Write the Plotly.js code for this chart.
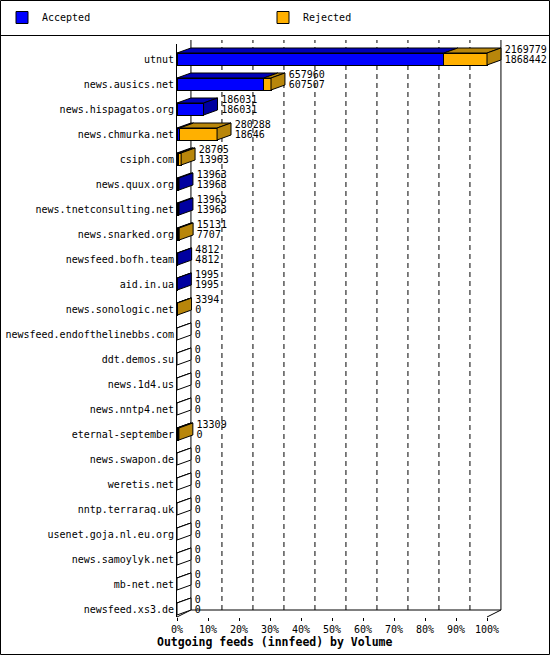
<!DOCTYPE html>
<html>
<head>
<meta charset="utf-8">
<script src="https://cdn.plot.ly/plotly-3.0.1.min.js"></script>
<style>
  html, body { margin: 0; padding: 0; background: #fff; }
  #chart { width: 550px; height: 655px; }
</style>
</head>
<body>
<div id="chart"></div>
<script>
// outgoing feeds, innfeed
var hosts = ['utnut', 'news.ausics.net', 'news.hispagatos.org', 'news.chmurka.net',
  'csiph.com', 'news.quux.org', 'news.tnetconsulting.net', 'news.snarked.org',
  'newsfeed.bofh.team', 'aid.in.ua', 'news.sonologic.net', 'newsfeed.endofthelinebbs.com',
  'ddt.demos.su', 'news.1d4.us', 'news.nntp4.net', 'eternal-september',
  'news.swapon.de', 'weretis.net', 'nntp.terraraq.uk', 'usenet.goja.nl.eu.org',
  'news.samoylyk.net', 'mb-net.net', 'newsfeed.xs3.de'];
var offered = [2169779, 657960, 186031, 280288, 28765, 13963, 13963, 15131,
  4812, 1995, 3394, 0, 0, 0, 0, 13309, 0, 0, 0, 0, 0, 0, 0];
var accepted = [1868442, 607507, 186031, 18646, 13963, 13963, 13963, 7707,
  4812, 1995, 0, 0, 0, 0, 0, 0, 0, 0, 0, 0, 0, 0, 0];
var pctTicks = [0, 10, 20, 30, 40, 50, 60, 70, 80, 90, 100];

var mono = 'DejaVu Sans Mono, Liberation Mono, monospace';

// pixel helpers (plot area is 177..549 x 40..619)
var L = 177, R = 549, T = 40, B = 619;
function px(p) { return (p - L) / (R - L); }
function py(p) { return (B - p) / (B - T); }

var maxOff = Math.max.apply(null, offered);
var rows = hosts.map(function (h, i) { return i; });
var accPct = accepted.map(function (v) { return v / maxOff * 100; });
var rejPct = offered.map(function (v, i) { return (v - accepted[i]) / maxOff * 100; });
var offPct = offered.map(function (v) { return v / maxOff * 100; });

// fake 3d: depth of bars in axis units
var DX = 4.5, DY = 0.2, H = 0.48;

function poly() { return {x: [], y: []}; }
function add(p, pts) {
  pts.forEach(function (q) { p.x.push(q[0]); p.y.push(q[1]); });
  p.x.push(null); p.y.push(null);
}
var topB = poly(), topO = poly(), sideB = poly(), sideO = poly(), sideE = poly();
rows.forEach(function (i) {
  var yt = i - H / 2, yb = i + H / 2, a = accPct[i], t = offPct[i];
  add(topB, [[0, yt], [a, yt], [a + DX, yt - DY], [DX, yt - DY], [0, yt]]);
  if (t > a) add(topO, [[a, yt], [t, yt], [t + DX, yt - DY], [a + DX, yt - DY], [a, yt]]);
  var side = [[t, yt], [t + DX, yt - DY], [t + DX, yb - DY], [t, yb], [t, yt]];
  if (t > a) add(sideO, side);
  else if (a > 0) add(sideB, side);
  else add(sideE, side);
});

function faceTrace(p, color) {
  return {
    type: 'scatter', mode: 'lines', x: p.x, y: p.y,
    fill: 'toself', fillcolor: color, line: {color: '#000', width: 1},
    hoverinfo: 'skip', showlegend: false
  };
}

var data = [
  {
    type: 'bar', orientation: 'h', name: 'Accepted', x: accPct, y: rows, width: H,
    marker: {color: '#0000FF', line: {color: '#000', width: 1}},
    hovertext: accepted, hoverinfo: 'text+name'
  },
  {
    type: 'bar', orientation: 'h', name: 'Rejected', x: rejPct, y: rows, width: H,
    marker: {color: '#FFB000', line: {color: '#000', width: 1}},
    hoverinfo: 'skip'
  },
  faceTrace(topB, '#0000B8'),
  faceTrace(topO, '#B8860B'),
  faceTrace(sideB, '#0000A0'),
  faceTrace(sideO, '#B8860B'),
  faceTrace(sideE, '#FFFFFF'),
  {
    type: 'scatter', mode: 'text', cliponaxis: false,
    x: offPct.map(function (v) { return v + DX + 1.2; }),
    y: rows.map(function (i) { return i - 0.36; }),
    text: offered.map(String), textposition: 'middle right',
    textfont: {family: mono, size: 10, color: '#000'},
    hoverinfo: 'skip', showlegend: false
  },
  {
    type: 'scatter', mode: 'text', cliponaxis: false,
    x: offPct.map(function (v) { return v + DX + 1.2; }),
    y: rows.map(function (i) { return i + 0.04; }),
    text: accepted.map(String), textposition: 'middle right',
    textfont: {family: mono, size: 10, color: '#000'},
    hoverinfo: 'skip', showlegend: false
  }
];

// back wall: dashed grid at the tick positions pushed back by DX, plus floor
var wall = [];
pctTicks.forEach(function (v) {
  var edge = (v === 0 || v === 100);
  wall.push({
    type: 'line', layer: 'below', xref: 'x', yref: 'paper',
    x0: v + DX, x1: v + DX, y0: py(610), y1: py(40),
    line: {color: '#000', width: 1, dash: edge ? 'solid' : '5px,4px'}
  });
});
wall.push(
  {type: 'line', layer: 'below', xref: 'x', yref: 'paper', x0: DX, x1: 100 + DX,
    y0: py(610), y1: py(610), line: {color: '#000', width: 1}},
  {type: 'line', layer: 'below', xref: 'x', yref: 'paper', x0: 0, x1: DX,
    y0: py(617), y1: py(610), line: {color: '#000', width: 1}},
  {type: 'line', layer: 'below', xref: 'x', yref: 'paper', x0: 100, x1: 100 + DX,
    y0: py(617), y1: py(610), line: {color: '#000', width: 1}}
);

var layout = {
  width: 550, height: 655,
  margin: {l: L, r: 550 - R, t: T, b: 655 - B, pad: 0},
  paper_bgcolor: '#fff', plot_bgcolor: '#fff',
  font: {family: mono, size: 10, color: '#000'},
  barmode: 'stack',
  showlegend: true,
  legend: {
    orientation: 'h', traceorder: 'normal', x: px(2), y: py(3), xanchor: 'left', yanchor: 'top',
    font: {family: mono, size: 10, color: '#000'},
    entrywidthmode: 'pixels', entrywidth: 216, bgcolor: 'rgba(0,0,0,0)'
  },
  xaxis: {
    domain: [0, 1], range: [0, 120],
    tickvals: pctTicks, ticktext: pctTicks.map(function (v) { return v + '%'; }),
    ticks: 'outside', ticklen: 3, tickcolor: '#000',
    tickfont: {family: mono, size: 10, color: '#000'},
    showgrid: false, zeroline: false, showline: false, fixedrange: true
  },
  yaxis: {
    domain: [py(617), py(44)], range: [22.32, -0.6],
    tickvals: rows, ticktext: hosts, ticks: '',
    tickfont: {family: mono, size: 10, color: '#000'},
    showgrid: false, zeroline: false, showline: true, linecolor: '#000', linewidth: 1,
    fixedrange: true
  },
  shapes: [
    {type: 'rect', xref: 'paper', yref: 'paper', x0: px(0.5), x1: px(549.5), y0: py(654.5), y1: py(0.5),
      line: {color: '#000', width: 1}},
    {type: 'line', xref: 'paper', yref: 'paper', x0: px(0.5), x1: px(549.5), y0: py(35.5), y1: py(35.5),
      line: {color: '#000', width: 1}}
  ].concat(wall),
  annotations: [{
    xref: 'paper', yref: 'paper', x: px(274), y: py(642), xanchor: 'center', yanchor: 'middle',
    showarrow: false, text: 'Outgoing feeds (innfeed) by Volume',
    font: {family: mono, size: 11.5, color: '#000', weight: 'bold'}
  }]
};

Plotly.newPlot('chart', data, layout, {displayModeBar: false, staticPlot: true});
</script>
</body>
</html>
